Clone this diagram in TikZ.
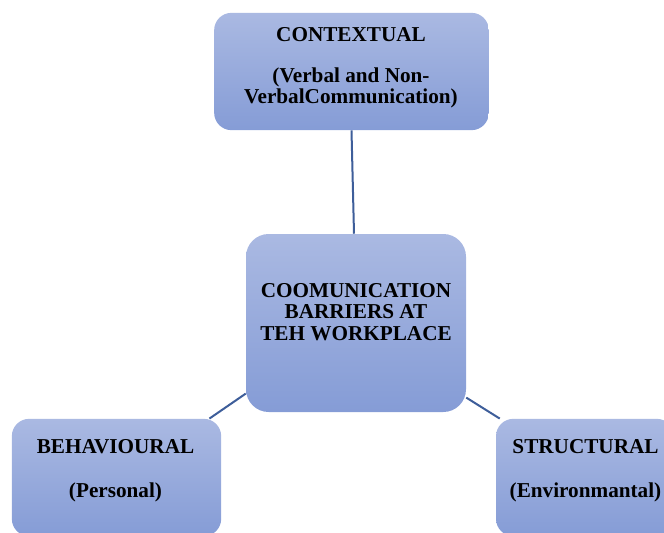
\documentclass[tikz,border=0pt]{standalone}
\usepackage{fontspec}
\setmainfont{Liberation Serif}
\usetikzlibrary{positioning}
\definecolor{boxtop}{RGB}{170,185,226}
\definecolor{boxbot}{RGB}{133,156,214}
\definecolor{linkblue}{RGB}{62,94,154}
\tikzset{
	barrier/.style={rounded corners=13pt,top color=boxtop,bottom color=boxbot,draw=none,inner sep=0pt},
	label text/.style={font=\bfseries\fontsize{15.9}{16}\selectfont,align=center,inner sep=0pt},
	link/.style={draw=linkblue,line width=1.5pt}
}
\begin{document}
\begin{tikzpicture}[x=0.75pt,y=-0.75pt]
	\useasboundingbox (0,0) rectangle (664,532);
	\clip (0,0) rectangle (664,532);
	\node [barrier,minimum width=206pt,minimum height=88pt] (ctx) at (351.5,71.5) {};
	\node [barrier,rounded corners=17pt,minimum width=165pt,minimum height=133.5pt] (ctr) at (356,323) {};
	\node [barrier,minimum width=157pt,minimum height=88pt] (beh) at (116.5,477.5) {};
	\node [barrier,minimum width=133.5pt,minimum height=88pt] (str) at (585,477.5) {};
	\node [label text] (ctxtext) at (351,67.5) {CONTEXTUAL\\[14.8pt](Verbal and Non-\\[-0.6pt]VerbalCommunication)};
	\node [label text] (ctrtext) at (356,312) {COOMUNICATION\\BARRIERS AT\\TEH WORKPLACE};
	\node [label text] (behtext) at (115.5,471) {BEHAVIOURAL\\[17pt](Personal)};
	\node [label text] (strtext) at (585.5,471) {STRUCTURAL\\[17pt](Environmantal)};
	\draw [link] (ctx.south) -- ([xshift=-1.5pt]ctr.north);
	\draw [link] ([xshift=-9pt]beh.north east) -- ([yshift=14pt]ctr.south west);
	\draw [link] ([yshift=11pt]ctr.south east) -- ([xshift=3pt]str.north west);
\end{tikzpicture}
\end{document}
